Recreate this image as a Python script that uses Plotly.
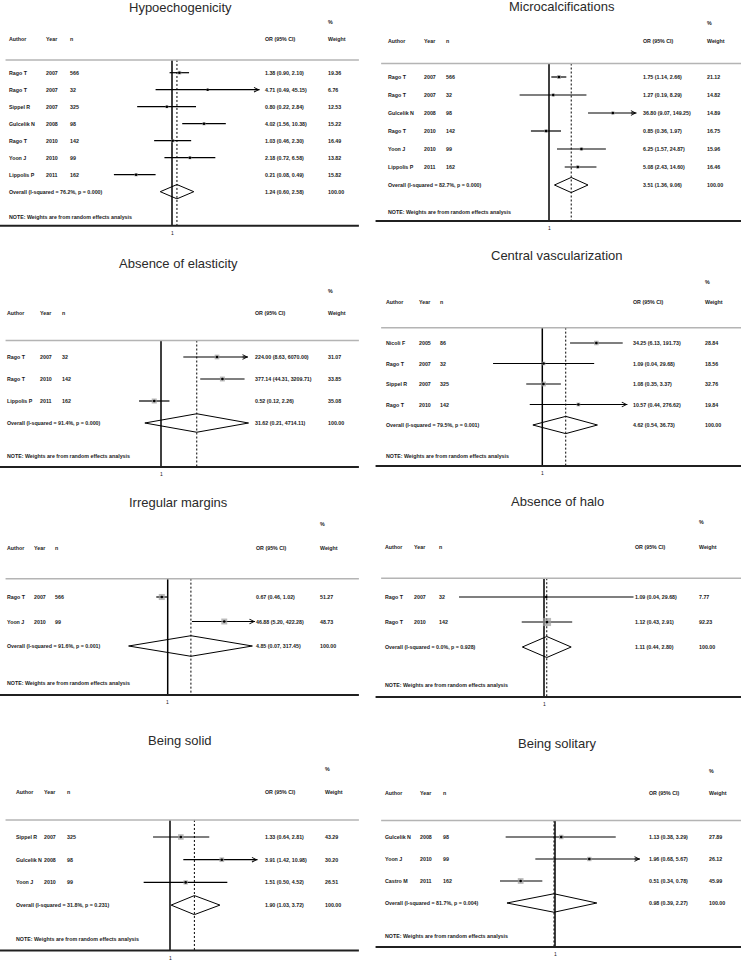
import math
import plotly.graph_objects as go

# ---------------- data ----------------
titles = ["Hypoechogenicity", "Microcalcifications", "Absence of elasticity",
          "Central vascularization", "Irregular margins", "Absence of halo",
          "Being solid", "Being solitary"]

hypo_author = ["Rago T", "Rago T", "Sippel R", "Gulcelik N", "Rago T", "Yoon J", "Lippolis P"]
hypo_year = [2007, 2007, 2007, 2008, 2010, 2010, 2011]
hypo_n = [566, 32, 325, 98, 142, 99, 162]
hypo_or = [1.38, 4.71, 0.80, 4.02, 1.03, 2.18, 0.21]
hypo_lo = [0.90, 0.49, 0.22, 1.56, 0.46, 0.72, 0.08]
hypo_hi = [2.10, 45.15, 2.84, 10.38, 2.30, 6.58, 0.49]
hypo_w = [19.36, 6.76, 12.53, 15.22, 16.49, 13.82, 15.82]
hypo_overall = [1.24, 0.60, 2.58]
hypo_het = ["76.2", "0.000"]

micro_author = ["Rago T", "Rago T", "Gulcelik N", "Rago T", "Yoon J", "Lippolis P"]
micro_year = [2007, 2007, 2008, 2010, 2010, 2011]
micro_n = [566, 32, 98, 142, 99, 162]
micro_or = [1.75, 1.27, 36.80, 0.85, 6.25, 5.08]
micro_lo = [1.14, 0.19, 9.07, 0.36, 1.57, 2.43]
micro_hi = [2.66, 8.29, 149.25, 1.97, 24.87, 14.60]
micro_w = [21.12, 14.82, 14.89, 16.75, 15.96, 16.46]
micro_overall = [3.51, 1.36, 9.06]
micro_het = ["82.7", "0.000"]

elast_author = ["Rago T", "Rago T", "Lippolis P"]
elast_year = [2007, 2010, 2011]
elast_n = [32, 142, 162]
elast_or = [224.00, 377.14, 0.52]
elast_lo = [8.63, 44.31, 0.12]
elast_hi = [6070.00, 3209.71, 2.26]
elast_w = [31.07, 33.85, 35.08]
elast_overall = [31.62, 0.21, 4714.11]
elast_het = ["91.4", "0.000"]

vasc_author = ["Nicoli F", "Rago T", "Sippel R", "Rago T"]
vasc_year = [2005, 2007, 2007, 2010]
vasc_n = [86, 32, 325, 142]
vasc_or = [34.25, 1.09, 1.08, 10.57]
vasc_lo = [6.13, 0.04, 0.35, 0.44]
vasc_hi = [191.73, 29.68, 3.37, 276.62]
vasc_w = [28.84, 18.56, 32.76, 19.84]
vasc_overall = [4.62, 0.54, 36.73]
vasc_het = ["79.5", "0.001"]

marg_author = ["Rago T", "Yoon J"]
marg_year = [2007, 2010]
marg_n = [566, 99]
marg_or = [0.67, 46.88]
marg_lo = [0.46, 5.20]
marg_hi = [1.02, 422.28]
marg_w = [51.27, 48.73]
marg_overall = [4.85, 0.07, 317.45]
marg_het = ["91.6", "0.001"]

halo_author = ["Rago T", "Rago T"]
halo_year = [2007, 2010]
halo_n = [32, 142]
halo_or = [1.09, 1.12]
halo_lo = [0.04, 0.43]
halo_hi = [29.68, 2.91]
halo_w = [7.77, 92.23]
halo_overall = [1.11, 0.44, 2.80]
halo_het = ["0.0", "0.928"]

solid_author = ["Sippel R", "Gulcelik N", "Yoon J"]
solid_year = [2007, 2008, 2010]
solid_n = [325, 98, 99]
solid_or = [1.33, 3.91, 1.51]
solid_lo = [0.64, 1.42, 0.50]
solid_hi = [2.81, 10.98, 4.52]
solid_w = [43.29, 30.20, 26.51]
solid_overall = [1.90, 1.03, 3.72]
solid_het = ["31.8", "0.231"]

solit_author = ["Gulcelik N", "Yoon J", "Castro M"]
solit_year = [2008, 2010, 2011]
solit_n = [98, 99, 162]
solit_or = [1.13, 1.96, 0.51]
solit_lo = [0.38, 0.68, 0.34]
solit_hi = [3.29, 5.67, 0.78]
solit_w = [27.89, 26.12, 45.99]
solit_overall = [0.98, 0.39, 2.27]
solit_het = ["81.7", "0.004"]

header_labels = ["Author", "Year", "n", "OR (95% CI)", "Weight"]

panels = [
    dict(author=hypo_author, year=hypo_year, n=hypo_n, est=hypo_or, lo=hypo_lo, hi=hypo_hi, w=hypo_w, ov=hypo_overall, het=hypo_het),
    dict(author=micro_author, year=micro_year, n=micro_n, est=micro_or, lo=micro_lo, hi=micro_hi, w=micro_w, ov=micro_overall, het=micro_het),
    dict(author=elast_author, year=elast_year, n=elast_n, est=elast_or, lo=elast_lo, hi=elast_hi, w=elast_w, ov=elast_overall, het=elast_het),
    dict(author=vasc_author, year=vasc_year, n=vasc_n, est=vasc_or, lo=vasc_lo, hi=vasc_hi, w=vasc_w, ov=vasc_overall, het=vasc_het),
    dict(author=marg_author, year=marg_year, n=marg_n, est=marg_or, lo=marg_lo, hi=marg_hi, w=marg_w, ov=marg_overall, het=marg_het),
    dict(author=halo_author, year=halo_year, n=halo_n, est=halo_or, lo=halo_lo, hi=halo_hi, w=halo_w, ov=halo_overall, het=halo_het),
    dict(author=solid_author, year=solid_year, n=solid_n, est=solid_or, lo=solid_lo, hi=solid_hi, w=solid_w, ov=solid_overall, het=solid_het),
    dict(author=solit_author, year=solit_year, n=solit_n, est=solit_or, lo=solit_lo, hi=solit_hi, w=solit_w, ov=solit_overall, het=solit_het),
]

# ---------------- layout parameters (pixels within each panel) ----------------
W_FIG, H_FIG = 741, 960
null_px = [172, 179, 161, 172.3, 167.7, 174, 170, 185]
px_per_ln = [23, 17.7, 10.35, 15.3, 14.7, 26.4, 38, 51]
row0_px = [72.7, 77, 117, 103, 117, 117, 117, 117]
row_px = [17.0, 18.0, 22.0, 20.5, 24.5, 25.0, 22.7, 22.0]
title_row = [-3.86, -3.94, -4.27, -4.29, -3.84, -3.84, -4.23, -4.27]
title_cx = [180, 192, 178, 187, 178, 187, 180, 187]
col_px = [[7, 44, 68, 263, 326], [16, 52, 74, 271, 335], [5, 38, 60, 253, 326],
          [14, 47, 68, 261, 333], [5, 32, 53, 254, 318], [13, 42, 67, 263, 327],
          [14, 42, 65, 263, 323], [13, 48, 71, 277, 337]]
clip_hi = [45, 140, 4500, 260, 380, None, 10, 5.3]

FONT = "Liberation Sans, Arial, sans-serif"
SMALL = dict(family=FONT, size=5.3, color="#1a1a1a", weight="bold")
LN10 = math.log(10)

fig = go.Figure()
annotations = []
shapes = []

for idx, p in enumerate(panels):
    i = idx + 1
    col, prow = idx % 2, idx // 2
    x0px = 0 if col == 0 else 370
    wpx = 370 if col == 0 else 371
    y0px, hpx = prow * 240, 240
    xa = "x" if i == 1 else f"x{i}"
    ya = "y" if i == 1 else f"y{i}"
    xkey = "xaxis" if i == 1 else f"xaxis{i}"
    ykey = "yaxis" if i == 1 else f"yaxis{i}"

    N, s = null_px[idx], px_per_ln[idx]
    r0 = -N / (s * LN10)
    r1 = (wpx - N) / (s * LN10)
    d, r0p = row_px[idx], row0_px[idx]
    fig.update_layout(**{
        xkey: dict(domain=[x0px / W_FIG, (x0px + wpx) / W_FIG], type="log", range=[r0, r1],
                   visible=False, anchor=ya, fixedrange=True),
        ykey: dict(domain=[1 - (y0px + hpx) / H_FIG, 1 - y0px / H_FIG],
                   range=[(hpx - r0p) / d, -r0p / d], visible=False, anchor=xa, fixedrange=True),
    })

    k = len(p["author"])
    rows = list(range(k))
    top_row, bot_row = -0.75, k + 2
    xd = xa + " domain"

    # null line and overall dashed line
    fig.add_trace(go.Scatter(x=[1, 1], y=[top_row, bot_row], mode="lines",
                             line=dict(color="black", width=1.5), xaxis=xa, yaxis=ya,
                             showlegend=False, hoverinfo="skip"))
    fig.add_trace(go.Scatter(x=[p["ov"][0], p["ov"][0]], y=[top_row, bot_row], mode="lines",
                             line=dict(color="black", width=1, dash="2px,2px"), xaxis=xa, yaxis=ya,
                             showlegend=False, hoverinfo="skip"))

    # CI lines
    cx, cy = [], []
    ch = clip_hi[idx]
    for r, lo, hi in zip(rows, p["lo"], p["hi"]):
        hh = hi if (ch is None or hi <= ch) else ch
        cx += [lo, hh, None]
        cy += [r, r, None]
        if ch is not None and hi > ch:
            annotations.append(dict(x=math.log10(ch), y=r, xref=xa, yref=ya, text="",
                                    showarrow=True, ax=-7, ay=0, arrowhead=5, arrowsize=0.9,
                                    arrowwidth=1, arrowcolor="black"))
    fig.add_trace(go.Scatter(x=cx, y=cy, mode="lines", line=dict(color="black", width=1.2),
                             xaxis=xa, yaxis=ya, showlegend=False, hoverinfo="skip"))

    # weight boxes and point estimates
    fig.add_trace(go.Scatter(x=p["est"], y=rows, mode="markers",
                             marker=dict(symbol="square", color="#9c9c9c",
                                         size=[0.85 * math.sqrt(w) for w in p["w"]], line=dict(width=0)),
                             xaxis=xa, yaxis=ya, showlegend=False, hoverinfo="skip"))
    fig.add_trace(go.Scatter(x=p["est"], y=rows, mode="markers",
                             marker=dict(symbol="circle", color="black", size=2.6),
                             xaxis=xa, yaxis=ya, showlegend=False, hoverinfo="skip"))

    # overall diamond
    est, lo, hi = p["ov"]
    h = 0.42
    fig.add_trace(go.Scatter(x=[lo, est, hi, est, lo], y=[k, k - h, k, k + h, k], mode="lines",
                             line=dict(color="black", width=1), xaxis=xa, yaxis=ya,
                             showlegend=False, hoverinfo="skip"))

    # horizontal rules
    shapes.append(dict(type="line", xref=xd, yref=ya, x0=0.015 if col == 0 else 0.03,
                       x1=0.97 if col == 0 else 1.0, y0=top_row, y1=top_row,
                       line=dict(color="#b4b4b4", width=1.5)))
    shapes.append(dict(type="line", xref=xd, yref=ya, x0=0.0 if col == 0 else 0.015,
                       x1=0.97 if col == 0 else 1.0, y0=bot_row, y1=bot_row,
                       line=dict(color="#202020", width=2)))

    # title
    annotations.append(dict(x=title_cx[idx] / wpx, y=title_row[idx], xref=xd, yref=ya,
                            text=titles[idx], showarrow=False, xanchor="center", yanchor="middle",
                            font=dict(family=FONT, size=13, color="#2a2a2a")))

    cols = [c / wpx for c in col_px[idx]]
    # header
    annotations.append(dict(x=cols[4], y=-3, xref=xd, yref=ya, text="%", showarrow=False,
                            xanchor="left", yanchor="middle", font=SMALL))
    for cpos, lab in zip(cols, header_labels):
        annotations.append(dict(x=cpos, y=-2, xref=xd, yref=ya, text=lab, showarrow=False,
                                xanchor="left", yanchor="middle", font=SMALL))
    # study rows
    for r in rows:
        vals = [p["author"][r], str(p["year"][r]), str(p["n"][r]),
                f"{p['est'][r]:.2f} ({p['lo'][r]:.2f}, {p['hi'][r]:.2f})", f"{p['w'][r]:.2f}"]
        for cpos, v in zip(cols, vals):
            annotations.append(dict(x=cpos, y=r, xref=xd, yref=ya, text=v, showarrow=False,
                                    xanchor="left", yanchor="middle", font=SMALL))
    # overall row
    annotations.append(dict(x=cols[0], y=k, xref=xd, yref=ya,
                            text=f"Overall (I-squared = {p['het'][0]}%, p = {p['het'][1]})",
                            showarrow=False, xanchor="left", yanchor="middle", font=SMALL))
    annotations.append(dict(x=cols[3], y=k, xref=xd, yref=ya,
                            text=f"{est:.2f} ({lo:.2f}, {hi:.2f})", showarrow=False,
                            xanchor="left", yanchor="middle", font=SMALL))
    annotations.append(dict(x=cols[4], y=k, xref=xd, yref=ya, text=f"{sum(p['w']):.2f}",
                            showarrow=False, xanchor="left", yanchor="middle", font=SMALL))
    # note
    annotations.append(dict(x=cols[0], y=k + 1.5, xref=xd, yref=ya,
                            text="NOTE: Weights are from random effects analysis",
                            showarrow=False, xanchor="left", yanchor="middle", font=SMALL))
    # tick label at OR = 1
    annotations.append(dict(x=0, y=bot_row, xref=xa, yref=ya, text="1", showarrow=False,
                            xanchor="center", yanchor="top", yshift=-2,
                            font=dict(family=FONT, size=5, color="#1a1a1a")))

fig.update_layout(width=W_FIG, height=H_FIG, margin=dict(l=0, r=0, t=0, b=0),
                  paper_bgcolor="white", plot_bgcolor="white", showlegend=False,
                  annotations=annotations, shapes=shapes)

fig.write_html("out.html", config={"displayModeBar": False},
               post_script="document.body.style.margin='0px';document.body.style.overflow='hidden';")
